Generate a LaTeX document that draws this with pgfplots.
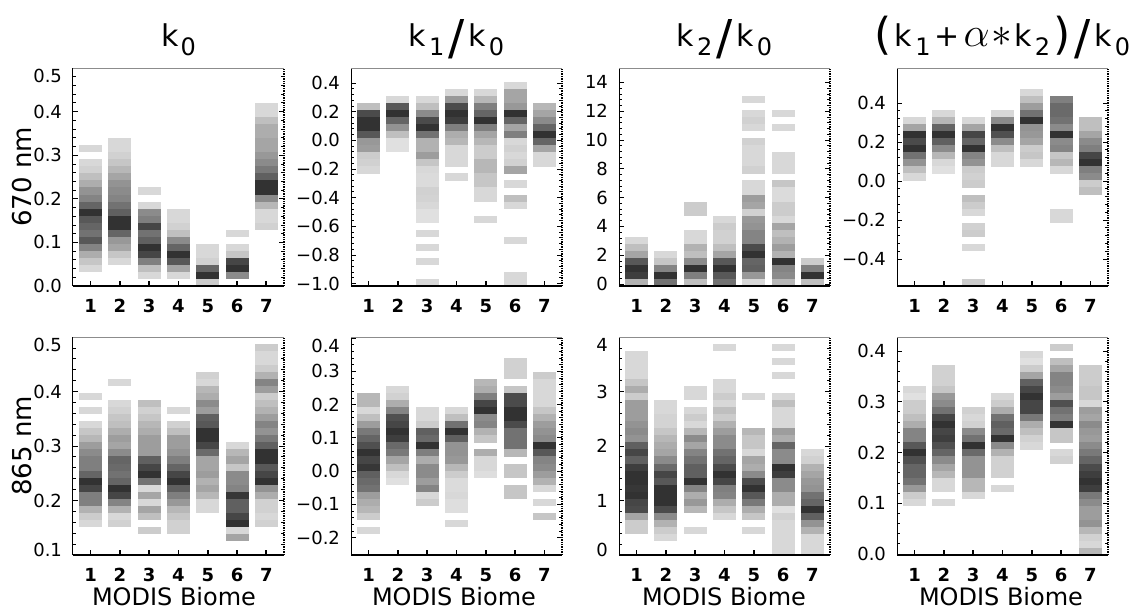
\documentclass[border=0pt]{standalone}
\usepackage{pgfplots}
\usepackage{pgfplotstable}
\pgfplotsset{compat=1.18}
\usepackage{graphicx}
\usepackage{fontspec}
\setmainfont{DejaVu Sans}
\newcommand\sub[1]{\raisebox{-0.3em}{\fontsize{12}{12}\selectfont #1}}
\newcommand\bigsl{\raisebox{-0.25em}{\fontsize{24}{24}\selectfont /}}
\newcommand\bigp[1]{\raisebox{-0.1em}{\fontsize{22}{22}\selectfont #1}}
\newcommand\dn[1]{\raisebox{0pt}[\dimexpr\height+8pt\relax][0pt]{#1}}
\newcommand\up[1]{\raisebox{0pt}[\height][\dimexpr\depth+5pt\relax]{#1}}
\pgfdeclareplotmark{cell}{\pgfpathrectangle{\pgfpoint{-5.75pt}{-1.79pt}}{\pgfpoint{11.5pt}{3.58pt}}\pgfusepathqfill}

% P1 k0 670
\pgfplotstableread[row sep=\\]{x b g\\
1 19 15\\1 17 15\\1 16 18\\1 15 25\\1 14 32\\1 13 42\\1 12 48\\1 11 60\\1 10 80\\1 9 65\\1 8 60\\1 7 55\\1 6 65\\1 5 48\\1 4 32\\1 3 22\\1 2 15\\
2 20 15\\2 19 15\\2 18 18\\2 17 22\\2 16 28\\2 15 35\\2 14 42\\2 13 45\\2 12 48\\2 11 55\\2 10 62\\2 9 80\\2 8 80\\2 7 60\\2 6 40\\2 5 35\\2 4 22\\2 3 15\\
3 13 15\\3 11 15\\3 10 45\\3 9 50\\3 8 72\\3 7 55\\3 6 62\\3 5 80\\3 4 72\\3 3 50\\3 2 25\\3 1 15\\
4 10 15\\4 9 15\\4 8 18\\4 7 25\\4 6 45\\4 5 60\\4 4 80\\4 3 65\\4 2 35\\4 1 15\\
5 5 15\\5 4 15\\5 3 18\\5 2 60\\5 1 80\\5 0 20\\
6 7 15\\6 5 15\\6 4 22\\6 3 72\\6 2 80\\6 1 45\\
7 25 15\\7 24 15\\7 23 25\\7 22 32\\7 21 32\\7 20 35\\7 19 35\\7 18 40\\7 17 45\\7 16 52\\7 15 62\\7 14 80\\7 13 80\\7 12 45\\7 11 28\\7 10 15\\7 9 15\\7 8 18\\
}\tA
% P2 k1/k0 670
\pgfplotstableread[row sep=\\]{x b g\\
1 25 25\\1 24 70\\1 23 80\\1 22 80\\1 21 65\\1 20 40\\1 19 38\\1 18 20\\1 17 18\\1 16 15\\
2 26 15\\2 25 65\\2 24 80\\2 23 60\\2 22 42\\2 21 25\\2 20 12\\2 19 12\\
3 26 15\\3 25 25\\3 24 45\\3 23 70\\3 22 80\\3 21 55\\3 20 30\\3 19 30\\3 18 38\\3 17 22\\3 16 15\\3 15 14\\3 14 14\\3 13 18\\3 12 17\\3 11 15\\3 10 12\\3 9 12\\3 7 15\\3 5 15\\3 3 15\\3 0 15\\
4 27 15\\4 26 40\\4 25 70\\4 24 80\\4 23 75\\4 22 50\\4 21 32\\4 20 28\\4 19 15\\4 18 15\\4 17 15\\4 15 15\\
5 27 15\\5 26 28\\5 25 50\\5 24 60\\5 23 80\\5 22 50\\5 21 35\\5 20 28\\5 19 20\\5 18 20\\5 17 28\\5 16 28\\5 15 22\\5 14 22\\5 13 15\\5 12 15\\5 9 15\\
6 28 15\\6 27 35\\6 26 35\\6 25 40\\6 24 80\\6 23 60\\6 22 35\\6 21 50\\6 20 15\\6 19 18\\6 18 15\\6 17 18\\6 16 35\\6 14 15\\6 12 25\\6 11 15\\6 6 15\\6 1 15\\6 0 15\\
7 25 28\\7 24 35\\7 23 45\\7 22 60\\7 21 80\\7 20 60\\7 19 35\\7 18 15\\7 17 15\\
}\tB
% P3 k2/k0 670
\pgfplotstableread[row sep=\\]{x b g\\
1 6 15\\1 5 25\\1 4 35\\1 3 65\\1 2 80\\1 1 75\\1 0 30\\
2 4 15\\2 3 22\\2 2 48\\2 1 80\\2 0 55\\
3 11 20\\3 10 20\\3 7 15\\3 6 15\\3 5 30\\3 4 25\\3 3 45\\3 2 80\\3 1 50\\3 0 25\\
4 9 15\\4 8 20\\4 7 18\\4 6 18\\4 5 25\\4 4 35\\4 3 65\\4 2 80\\4 1 65\\4 0 55\\
5 26 15\\5 24 15\\5 23 18\\5 22 15\\5 20 18\\5 19 15\\5 18 15\\5 17 15\\5 16 18\\5 14 15\\5 13 15\\5 12 38\\5 11 35\\5 10 18\\5 9 40\\5 8 42\\5 7 48\\5 6 48\\5 5 70\\5 4 80\\5 3 60\\5 2 62\\5 1 40\\5 0 15\\
6 24 15\\6 22 15\\6 18 15\\6 17 15\\6 16 15\\6 14 22\\6 13 14\\6 12 14\\6 11 20\\6 10 20\\6 9 15\\6 8 35\\6 7 25\\6 6 30\\6 5 38\\6 4 30\\6 3 80\\6 2 48\\6 1 45\\6 0 28\\
7 3 20\\7 2 50\\7 1 80\\7 0 25\\
}\tC
% P4 (k1+a k2)/k0 670
\pgfplotstableread[row sep=\\]{x b g\\
1 23 15\\1 22 35\\1 21 80\\1 20 70\\1 19 80\\1 18 55\\1 17 42\\1 16 25\\1 15 15\\
2 24 15\\2 23 28\\2 22 60\\2 21 80\\2 20 62\\2 19 45\\2 18 28\\2 17 15\\2 16 12\\
3 23 15\\3 22 35\\3 21 72\\3 20 60\\3 19 80\\3 18 48\\3 17 42\\3 16 20\\3 15 18\\3 14 20\\3 12 25\\3 11 20\\3 10 15\\3 8 18\\3 7 20\\3 5 15\\3 0 20\\
4 24 15\\4 23 45\\4 22 80\\4 21 68\\4 20 45\\4 19 25\\4 18 15\\4 17 15\\
5 27 15\\5 26 25\\5 25 38\\5 24 55\\5 23 80\\5 22 42\\5 21 40\\5 20 35\\5 19 20\\5 18 22\\5 17 15\\
6 26 50\\6 25 58\\6 24 58\\6 23 55\\6 22 45\\6 21 80\\6 20 45\\6 19 48\\6 18 22\\6 17 28\\6 16 15\\6 10 15\\6 9 15\\
7 23 25\\7 22 25\\7 21 35\\7 20 45\\7 19 50\\7 18 72\\7 17 80\\7 16 50\\7 15 45\\7 14 20\\7 13 25\\
}\tD
% P5 k0 865
\pgfplotstableread[row sep=\\]{x b g\\
1 22 15\\1 20 15\\1 18 15\\1 17 22\\1 16 28\\1 15 38\\1 14 45\\1 13 50\\1 12 50\\1 11 60\\1 10 80\\1 9 72\\1 8 50\\1 7 50\\1 6 30\\1 5 20\\1 4 15\\
2 24 15\\2 21 15\\2 20 18\\2 19 22\\2 18 25\\2 17 32\\2 16 38\\2 15 35\\2 14 45\\2 13 60\\2 12 58\\2 11 55\\2 10 60\\2 9 80\\2 8 72\\2 7 48\\2 6 30\\2 5 15\\2 4 18\\
3 21 25\\3 20 18\\3 19 22\\3 18 28\\3 17 32\\3 16 38\\3 15 38\\3 14 38\\3 13 62\\3 12 72\\3 11 80\\3 10 55\\3 9 15\\3 8 35\\3 7 15\\3 6 35\\3 5 25\\3 3 20\\
4 20 15\\4 18 18\\4 17 25\\4 16 38\\4 15 38\\4 14 42\\4 13 50\\4 12 60\\4 11 72\\4 10 80\\4 9 62\\4 8 50\\4 7 40\\4 6 28\\4 5 22\\4 4 18\\4 3 18\\
5 25 18\\5 24 15\\5 23 28\\5 22 32\\5 21 45\\5 20 38\\5 19 62\\5 18 65\\5 17 80\\5 16 80\\5 15 72\\5 14 58\\5 13 35\\5 12 35\\5 11 38\\5 10 30\\5 9 35\\5 8 28\\5 7 15\\5 6 15\\
6 15 15\\6 14 28\\6 13 35\\6 12 22\\6 11 45\\6 10 45\\6 9 48\\6 8 78\\6 7 62\\6 6 62\\6 5 72\\6 4 80\\6 3 15\\6 2 35\\
7 29 20\\7 28 15\\7 27 15\\7 26 20\\7 25 30\\7 24 48\\7 23 38\\7 22 20\\7 21 25\\7 20 30\\7 19 38\\7 18 48\\7 17 42\\7 16 52\\7 15 62\\7 14 80\\7 13 80\\7 12 65\\7 11 72\\7 10 80\\7 9 42\\7 8 32\\7 7 18\\7 6 18\\7 5 15\\7 4 18\\
}\tE
% P6 k1/k0 865
\pgfplotstableread[row sep=\\]{x b g\\
1 22 28\\1 21 28\\1 20 15\\1 19 25\\1 18 38\\1 17 52\\1 16 60\\1 15 68\\1 14 80\\1 13 72\\1 12 78\\1 11 62\\1 10 58\\1 9 55\\1 8 38\\1 7 32\\1 6 28\\1 5 20\\1 3 15\\
2 23 15\\2 22 18\\2 21 32\\2 20 48\\2 19 68\\2 18 72\\2 17 80\\2 16 75\\2 15 58\\2 14 52\\2 13 35\\2 12 25\\2 11 15\\2 10 12\\
3 20 15\\3 19 15\\3 18 20\\3 17 62\\3 16 58\\3 15 80\\3 14 50\\3 13 32\\3 12 45\\3 11 45\\3 10 38\\3 9 48\\3 8 15\\3 7 20\\
4 20 15\\4 19 25\\4 18 55\\4 17 80\\4 16 62\\4 15 42\\4 14 42\\4 13 40\\4 12 28\\4 11 20\\4 10 14\\4 9 14\\4 8 15\\4 7 13\\4 6 13\\4 4 15\\
5 24 28\\5 23 32\\5 22 50\\5 21 72\\5 20 80\\5 19 45\\5 18 48\\5 17 30\\5 16 22\\5 14 32\\5 13 15\\5 12 15\\5 11 13\\
6 27 18\\6 26 18\\6 25 18\\6 23 22\\6 22 70\\6 21 70\\6 20 80\\6 19 80\\6 18 70\\6 17 55\\6 16 55\\6 15 55\\6 14 28\\6 12 22\\6 11 22\\6 9 22\\6 8 22\\
7 25 20\\7 24 15\\7 23 15\\7 22 15\\7 21 15\\7 20 22\\7 19 30\\7 18 38\\7 17 42\\7 16 45\\7 15 80\\7 14 65\\7 13 48\\7 12 45\\7 11 38\\7 10 30\\7 9 15\\7 7 15\\7 5 22\\
}\tF
% P7 k2/k0 865
\pgfplotstableread[row sep=\\]{x b g\\
1 28 15\\1 27 15\\1 26 15\\1 25 15\\1 24 22\\1 23 32\\1 22 20\\1 21 38\\1 20 38\\1 19 38\\1 18 42\\1 17 45\\1 16 42\\1 15 62\\1 14 72\\1 13 62\\1 12 75\\1 11 80\\1 10 80\\1 9 78\\1 8 80\\1 7 72\\1 6 70\\1 5 35\\1 4 20\\1 3 20\\
2 21 15\\2 20 15\\2 19 17\\2 18 17\\2 17 22\\2 16 28\\2 15 32\\2 14 35\\2 13 45\\2 12 58\\2 11 72\\2 10 65\\2 9 80\\2 8 80\\2 7 80\\2 6 70\\2 5 45\\2 4 30\\2 3 20\\2 2 15\\
3 23 15\\3 22 15\\3 20 15\\3 19 20\\3 18 15\\3 17 28\\3 16 45\\3 15 35\\3 14 48\\3 13 55\\3 12 62\\3 11 62\\3 10 80\\3 9 48\\3 8 32\\3 7 40\\3 6 28\\3 3 15\\
4 29 15\\4 24 15\\4 23 15\\4 22 20\\4 21 15\\4 20 25\\4 19 20\\4 18 30\\4 17 38\\4 16 45\\4 15 45\\4 14 55\\4 13 60\\4 12 70\\4 11 80\\4 10 72\\4 9 50\\4 8 48\\4 7 32\\4 6 22\\4 5 15\\
5 22 15\\5 17 28\\5 16 22\\5 15 22\\5 14 15\\5 13 35\\5 12 32\\5 11 45\\5 10 70\\5 9 80\\5 8 65\\5 7 52\\5 6 32\\5 5 22\\5 3 15\\
6 29 15\\6 27 15\\6 25 15\\6 22 15\\6 21 25\\6 20 15\\6 19 15\\6 18 15\\6 17 38\\6 16 32\\6 15 60\\6 14 45\\6 13 45\\6 12 80\\6 11 75\\6 10 45\\6 9 45\\6 8 32\\6 7 32\\6 6 12\\6 5 18\\6 4 15\\6 3 15\\6 2 15\\6 1 15\\6 0 15\\
7 14 15\\7 13 18\\7 12 30\\7 11 35\\7 10 40\\7 9 42\\7 8 55\\7 7 60\\7 6 80\\7 5 62\\7 4 42\\7 3 30\\7 2 15\\7 1 15\\7 0 15\\
}\tG
% P8 (k1+a k2)/k0 865
\pgfplotstableread[row sep=\\]{x b g\\
1 23 15\\1 22 12\\1 21 20\\1 20 20\\1 19 25\\1 18 32\\1 17 48\\1 16 48\\1 15 65\\1 14 80\\1 13 68\\1 12 60\\1 11 60\\1 10 55\\1 9 40\\1 8 20\\1 7 15\\
2 26 18\\2 25 18\\2 24 18\\2 23 22\\2 22 40\\2 21 45\\2 20 55\\2 19 72\\2 18 80\\2 17 72\\2 16 75\\2 15 68\\2 14 60\\2 13 45\\2 12 35\\2 11 28\\2 10 15\\2 9 15\\2 7 15\\
3 20 18\\3 19 15\\3 18 18\\3 17 45\\3 16 55\\3 15 80\\3 14 58\\3 13 42\\3 12 42\\3 11 42\\3 10 28\\3 9 28\\3 8 15\\
4 22 15\\4 21 20\\4 20 32\\4 19 55\\4 18 62\\4 17 58\\4 16 80\\4 15 45\\4 14 30\\4 13 18\\4 12 18\\4 11 18\\4 9 15\\
5 28 15\\5 27 12\\5 26 20\\5 25 35\\5 24 62\\5 23 72\\5 22 80\\5 21 72\\5 20 72\\5 19 52\\5 18 32\\5 17 25\\5 16 18\\5 15 15\\
6 29 20\\6 27 25\\6 26 35\\6 25 48\\6 24 48\\6 23 45\\6 22 38\\6 21 68\\6 20 55\\6 19 50\\6 18 80\\6 17 22\\6 16 22\\6 14 15\\6 13 18\\
7 26 20\\7 25 20\\7 24 20\\7 23 22\\7 22 22\\7 21 15\\7 20 38\\7 19 35\\7 18 45\\7 17 40\\7 16 38\\7 15 45\\7 14 52\\7 13 60\\7 12 70\\7 11 75\\7 10 80\\7 9 75\\7 8 52\\7 7 45\\7 6 38\\7 5 38\\7 4 42\\7 3 28\\7 2 18\\7 1 15\\7 0 28\\
}\tH

\pgfplotsset{
  panel/.style={
    scale only axis, width=105.5pt, height=109pt, anchor=south west,
    xmin=0.4, xmax=7.6, xtick={1,2,3,4,5,6,7}, xticklabels={1,2,3,4,5,6,7},
    xtick pos=left, ytick pos=both, tick align=inside,
    major tick length=2.5pt, minor tick length=1.3pt,
    minor y tick num=4,
    axis line style={draw=none},
    clip=false,
    xtick style={line width=0.9pt, black},
    ytick style={line width=0.4pt, black},
    x tick label style={font=\bfseries\fontsize{9}{10}\selectfont, yshift=-3pt},
    y tick label style={font=\fontsize{9}{10}\selectfont, xshift=-2pt},
    colormap={bw}{gray(0cm)=(1); gray(1cm)=(0)},
    point meta min=0, point meta max=100,
    extra description/.code={
      \draw[line width=1.1pt, black] (0,0) -- (1,0);
      \draw[line width=0.5pt, black] (0,0) -- (0,1);
      \draw[line width=0.4pt, black!45] (0,1) -- (1,1);
      \draw[line width=0.8pt, black, dash pattern=on 0.7pt off 0.5pt] (1,0) -- (1,1);
    },
  },
}
\newcommand\cellplot[3]{% table, ymin, binh
  \addplot[scatter, only marks, mark=cell,
    scatter/use mapped color={draw=none, fill=mapped color},
    point meta=\thisrow{g}]
    table[x=x, y expr={#2+(\thisrow{b}+0.5)*#3}] {#1};}

\begin{document}
\begin{tikzpicture}
\useasboundingbox (0,0) rectangle (574pt,305.5pt);
% top row
\begin{axis}[panel, at={(36.5pt,162.5pt)}, ymin=0, ymax=0.5,
  ytick={0,0.1,0.2,0.3,0.4,0.5}, yticklabels={0.0,0.1,0.2,0.3,0.4,\dn{0.5}}]
\cellplot{\tA}{0}{0.016129}
\end{axis}
\begin{axis}[panel, at={(175.5pt,162.5pt)}, ymin=-1.017, ymax=0.505,
  ytick={-1,-0.8,-0.6,-0.4,-0.2,0,0.2,0.4}, yticklabels={−1.0,−0.8,−0.6,−0.4,−0.2,0.0,0.2,0.4}]
\cellplot{\tB}{-1.017}{0.049097}
\end{axis}
\begin{axis}[panel, at={(309.5pt,162.5pt)}, ymin=-0.14, ymax=15.0,
  ytick={0,2,4,6,8,10,12,14}, yticklabels={0,2,4,6,8,10,12,14}]
\cellplot{\tC}{-0.14}{0.48839}
\end{axis}
\begin{axis}[panel, at={(448.5pt,162.5pt)}, ymin=-0.539, ymax=0.58,
  ytick={-0.4,-0.2,0,0.2,0.4}, yticklabels={−0.4,−0.2,0.0,0.2,0.4}]
\cellplot{\tD}{-0.539}{0.036097}
\end{axis}
% bottom row
\begin{axis}[panel, at={(36.5pt,28pt)}, ymin=0.1, ymax=0.5,
  ytick={0.1,0.2,0.3,0.4,0.5}, yticklabels={\up{0.1},0.2,0.3,0.4,\dn{0.5}}]
\cellplot{\tE}{0.1}{0.012903}
\end{axis}
\begin{axis}[panel, at={(175.5pt,28pt)}, ymin=-0.252, ymax=0.403,
  ytick={-0.2,-0.1,0,0.1,0.2,0.3,0.4}, yticklabels={−0.2,−0.1,0.0,0.1,0.2,0.3,\dn{0.4}}]
\cellplot{\tF}{-0.252}{0.021129}
\end{axis}
\begin{axis}[panel, at={(309.5pt,28pt)}, ymin=0, ymax=4,
  ytick={0,1,2,3,4}, yticklabels={\up{0},1,2,3,\dn{4}}]
\cellplot{\tG}{0}{0.129032}
\end{axis}
\begin{axis}[panel, at={(448.5pt,28pt)}, ymin=-0.002, ymax=0.4275,
  ytick={0,0.1,0.2,0.3,0.4}, yticklabels={0.0,0.1,0.2,0.3,0.4}]
\cellplot{\tH}{-0.002}{0.013855}
\end{axis}
% titles
\begin{scope}[every node/.style={anchor=base, inner sep=0pt, font=\fontsize{15}{15}\selectfont}]
\node at (89.25pt,282pt) {k\kern1pt\sub{0}};
\node at (228.25pt,282pt) {k\kern1.5pt\sub{1}\kern2pt\bigsl\kern2pt k\kern1.5pt\sub{0}};
\node at (362.25pt,282pt) {k\kern1.5pt\sub{2}\kern2pt\bigsl\kern2pt k\kern1.5pt\sub{0}};
\node at (501.25pt,282pt) {\bigp{(}\kern1.5pt k\kern1.5pt\sub{1}\kern2pt+\kern2pt{\fontsize{22}{22}\selectfont$\alpha$}\kern1pt{\fontsize{20}{20}\selectfont$\ast$}\kern1pt k\kern1.5pt\sub{2}\kern1.5pt\bigp{)}\kern2pt\bigsl\kern2pt k\kern1.5pt\sub{0}};
\end{scope}
\node[rotate=90, font=\fontsize{13}{13}\selectfont] at (11pt,217pt) {670 nm};
\node[rotate=90, font=\fontsize{13}{13}\selectfont] at (11pt,82.5pt) {865 nm};
\begin{scope}[every node/.style={anchor=base, inner sep=0pt, font=\fontsize{12}{12}\selectfont}]
\node at (87pt,2.5pt) {MODIS Biome};
\node at (227pt,2.5pt) {MODIS Biome};
\node at (362pt,2.5pt) {MODIS Biome};
\node at (500.5pt,2.5pt) {MODIS Biome};
\end{scope}
\end{tikzpicture}
\end{document}
